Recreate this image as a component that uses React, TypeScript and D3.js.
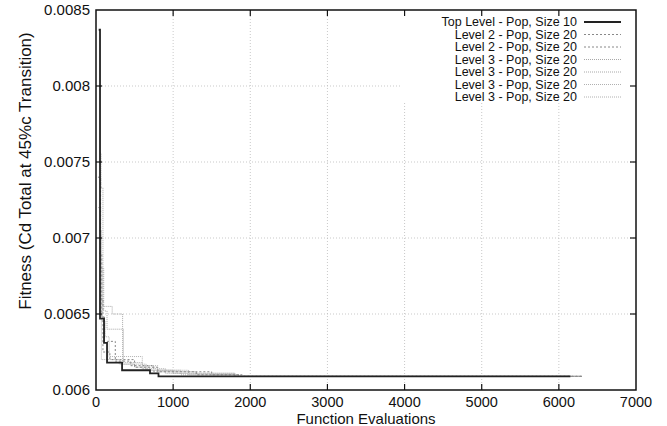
import React, { useEffect, useRef } from "react";
import * as d3 from "d3";

// tick values
const xTicks = [0, 1000, 2000, 3000, 4000, 5000, 6000, 7000];
const yTicks = [0.006, 0.0065, 0.007, 0.0075, 0.008, 0.0085];

// legend labels
const labels = [
  "Top Level - Pop, Size 10",
  "Level 2 - Pop, Size 20",
  "Level 2 - Pop, Size 20",
  "Level 3 - Pop, Size 20",
  "Level 3 - Pop, Size 20",
  "Level 3 - Pop, Size 20",
  "Level 3 - Pop, Size 20",
];

// best fitness found so far vs number of function evaluations (step curves)
const topEvals = [35, 52, 104, 143, 338, 700, 810, 6150];
const topFit = [0.00837, 0.00647, 0.00631, 0.00618, 0.00613, 0.00611, 0.00609, 0.00609];

const l2aEvals = [40, 75, 110, 250, 450, 750, 1300, 1850, 6300];
const l2aFit = [0.0069, 0.00648, 0.00632, 0.00619, 0.00616, 0.00612, 0.0061, 0.00609, 0.00609];

const l2bEvals = [25, 60, 90, 180, 500, 800, 1500, 1900, 6300];
const l2bFit = [0.0074, 0.0066, 0.00625, 0.0062, 0.00615, 0.00612, 0.0061, 0.00609, 0.00609];

const l3aEvals = [50, 65, 90, 210, 345, 500, 700, 1000, 1800, 6300];
const l3aFit = [0.00756, 0.00733, 0.00655, 0.0065, 0.00617, 0.00615, 0.00613, 0.00611, 0.00609, 0.00609];

const l3bEvals = [30, 60, 100, 143, 355, 600, 900, 1800, 6300];
const l3bFit = [0.0072, 0.0068, 0.00652, 0.0064, 0.00618, 0.00614, 0.00611, 0.00609, 0.00609];

const l3cEvals = [45, 70, 300, 650, 1100, 1800, 6300];
const l3cFit = [0.00705, 0.0062, 0.00617, 0.00613, 0.0061, 0.00609, 0.00609];

const l3dEvals = [55, 80, 120, 170, 600, 800, 1200, 1850, 6300];
const l3dFit = [0.0068, 0.00645, 0.00635, 0.00622, 0.00616, 0.00613, 0.0061, 0.00609, 0.00609];

const FONT = "'Liberation Sans', Arial, Helvetica, sans-serif";

export default function App() {
  const ref = useRef<SVGSVGElement>(null);

  useEffect(() => {
    const width = 667;
    const height = 426;
    const margin = { top: 10, right: 31, bottom: 36, left: 96 };
    const w = width - margin.left - margin.right;
    const h = height - margin.top - margin.bottom;

    const svg = d3.select(ref.current);
    svg.selectAll("*").remove();
    const g = svg.append("g").attr("transform", `translate(${margin.left},${margin.top})`);

    const x = d3.scaleLinear().domain([0, 7000]).range([0, w]);
    const y = d3.scaleLinear().domain([0.006, 0.0085]).range([h, 0]);

    // grid
    g.selectAll(".vgrid")
      .data(xTicks.slice(1, -1))
      .enter()
      .append("line")
      .attr("x1", (d) => x(d))
      .attr("x2", (d) => x(d))
      .attr("y1", 0)
      .attr("y2", h)
      .attr("stroke", "#bbb")
      .attr("stroke-width", 0.8)
      .attr("stroke-dasharray", "1,2");
    g.selectAll(".hgrid")
      .data(yTicks.slice(1, -1))
      .enter()
      .append("line")
      .attr("x1", 0)
      .attr("x2", w)
      .attr("y1", (d) => y(d))
      .attr("y2", (d) => y(d))
      .attr("stroke", "#bbb")
      .attr("stroke-width", 0.8)
      .attr("stroke-dasharray", "1,2");

    // the key box blanks the grid behind it
    g.append("rect")
      .attr("x", x(3960))
      .attr("y", 0)
      .attr("width", w - x(3960))
      .attr("height", 93)
      .attr("fill", "#fff");

    const series = [
      { ev: l3dEvals, fit: l3dFit, color: "#b0b0b0", dash: "1,1", width: 1 },
      { ev: l3cEvals, fit: l3cFit, color: "#b0b0b0", dash: "1,1", width: 1 },
      { ev: l3bEvals, fit: l3bFit, color: "#a8a8a8", dash: "1,1", width: 1 },
      { ev: l3aEvals, fit: l3aFit, color: "#a8a8a8", dash: "1,1", width: 1 },
      { ev: l2bEvals, fit: l2bFit, color: "#888", dash: "2,2", width: 1 },
      { ev: l2aEvals, fit: l2aFit, color: "#888", dash: "2,2", width: 1 },
      { ev: topEvals, fit: topFit, color: "#222", dash: null, width: 1.8 },
    ];

    const line = d3
      .line<[number, number]>()
      .x((d) => x(d[0]))
      .y((d) => y(d[1]))
      .curve(d3.curveStepAfter);

    series.forEach((s) => {
      const pts: [number, number][] = s.ev.map((e, i) => [e, s.fit[i]]);
      g.append("path")
        .attr("d", line(pts))
        .attr("fill", "none")
        .attr("stroke", s.color)
        .attr("stroke-width", s.width)
        .attr("stroke-dasharray", s.dash);
    });

    // frame
    g.append("rect")
      .attr("x", 0)
      .attr("y", 0)
      .attr("width", w)
      .attr("height", h)
      .attr("fill", "none")
      .attr("stroke", "#111")
      .attr("stroke-width", 1.5);

    // inward ticks on all four sides
    const tl = 6;
    xTicks.slice(1, -1).forEach((t) => {
      g.append("line").attr("x1", x(t)).attr("x2", x(t)).attr("y1", h).attr("y2", h - tl).attr("stroke", "#111").attr("stroke-width", 1.2);
      g.append("line").attr("x1", x(t)).attr("x2", x(t)).attr("y1", 0).attr("y2", tl).attr("stroke", "#111").attr("stroke-width", 1.2);
    });
    yTicks.slice(1, -1).forEach((t) => {
      g.append("line").attr("x1", 0).attr("x2", tl).attr("y1", y(t)).attr("y2", y(t)).attr("stroke", "#111").attr("stroke-width", 1.2);
      g.append("line").attr("x1", w).attr("x2", w - tl).attr("y1", y(t)).attr("y2", y(t)).attr("stroke", "#111").attr("stroke-width", 1.2);
    });

    // tick labels
    g.selectAll(".xl")
      .data(xTicks)
      .enter()
      .append("text")
      .attr("x", (d) => x(d))
      .attr("y", h + 17)
      .attr("text-anchor", "middle")
      .style("font-family", FONT)
      .style("font-size", "14.5px")
      .style("fill", "#111")
      .text((d) => String(d));
    g.selectAll(".yl")
      .data(yTicks)
      .enter()
      .append("text")
      .attr("x", -6)
      .attr("y", (d) => y(d))
      .attr("dy", "0.35em")
      .attr("text-anchor", "end")
      .style("font-family", FONT)
      .style("font-size", "15px")
      .style("fill", "#111")
      .text((d) => String(d));

    // axis titles
    svg.append("text")
      .attr("x", margin.left + w / 2)
      .attr("y", 424)
      .attr("text-anchor", "middle")
      .style("font-family", FONT)
      .style("font-size", "15px")
      .style("fill", "#111")
      .text("Function Evaluations");
    svg.append("text")
      .attr("transform", "translate(31,171) rotate(-90)")
      .attr("text-anchor", "middle")
      .style("font-family", FONT)
      .style("font-size", "17px")
      .style("fill", "#111")
      .text("Fitness (Cd Total at 45%c Transition)");

    // legend, drawn in the same order as the series were plotted in the original
    const legendStyles = [series[6], series[5], series[4], series[3], series[2], series[1], series[0]];
    labels.forEach((lab, i) => {
      const ly = 12 + i * 12.5;
      g.append("text")
        .attr("x", 481)
        .attr("y", ly)
        .attr("dy", "0.35em")
        .attr("text-anchor", "end")
        .style("font-family", FONT)
        .style("font-size", "12.5px")
        .style("fill", "#111")
        .text(lab);
      const s = legendStyles[i];
      g.append("line")
        .attr("x1", 488)
        .attr("x2", 525)
        .attr("y1", ly)
        .attr("y2", ly)
        .attr("stroke", s.color)
        .attr("stroke-width", s.width)
        .attr("stroke-dasharray", s.dash);
    });
  }, []);

  return (
    <svg
      ref={ref}
      width={667}
      height={426}
      style={{ position: "absolute", left: 0, top: 0, background: "#fff" }}
    />
  );
}
